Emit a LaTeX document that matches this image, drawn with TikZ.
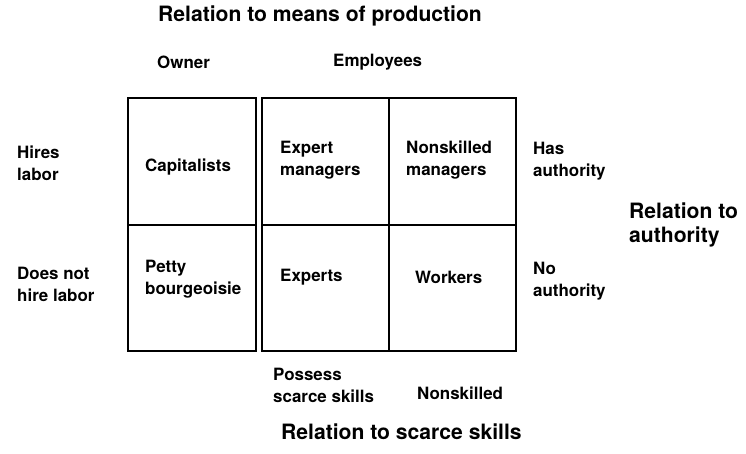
\documentclass[tikz,border=0pt]{standalone}
\usepackage{fontspec}
\setmainfont{TeX Gyre Heros}
\newcommand{\lblfont}{\fontsize{17}{22}\selectfont\bfseries}
\newcommand{\ttlfont}{\fontsize{21.2}{24.5}\selectfont\bfseries}
\begin{document}
\begin{tikzpicture}[x=1bp,y=-1bp,
  lab/.style={font=\lblfont, inner sep=0pt, align=left, anchor=west},
  ttl/.style={font=\ttlfont, inner sep=0pt, align=left, anchor=west},
  grid/.style={line width=1.6bp, line join=miter}]
\useasboundingbox[fill=white] (0,0) rectangle (746,454);
% boxes
\draw[grid] (128,98) rectangle (256,351);
\draw[grid] (128,225) -- (256,225);
\draw[grid] (262,98) rectangle (516,351);
\draw[grid] (262,225) -- (516,225);
\draw[grid] (389,98) -- (389,351);
% headings
\node[ttl] (title) at (158,16) {Relation to means of production};
\node[lab] (owner) at (157,62) {Owner};
\node[lab] (empl) at (333,62) {Employees};
% left labels
\node[lab] (hires) at (17,163) {Hires\\labor};
\node[lab] (nohire) at (17,284) {Does not\\hire labor};
% cells
\node[lab] (cap) at (145,167) {Capitalists};
\node[lab] (petty) at (145,279) {Petty\\bourgeoisie};
\node[lab] (expman) at (280,160) {Expert\\managers};
\node[lab] (nsman) at (406,160) {Nonskilled\\managers};
\node[lab] (experts) at (280,277) {Experts};
\node[lab] (workers) at (415,277) {Workers};
% right labels
\node[lab] (hasauth) at (533,161) {Has\\authority};
\node[lab] (noauth) at (533,281) {No\\authority};
\node[ttl] (relauth) at (629,225) {Relation to\\authority};
% bottom labels
\node[lab] (possess) at (273,385) {Possess\\scarce skills};
\node[lab] (nonsk) at (417,393) {Nonskilled};
\node[ttl] (relskill) at (281,432) {Relation to scarce skills};
\end{tikzpicture}
\end{document}
